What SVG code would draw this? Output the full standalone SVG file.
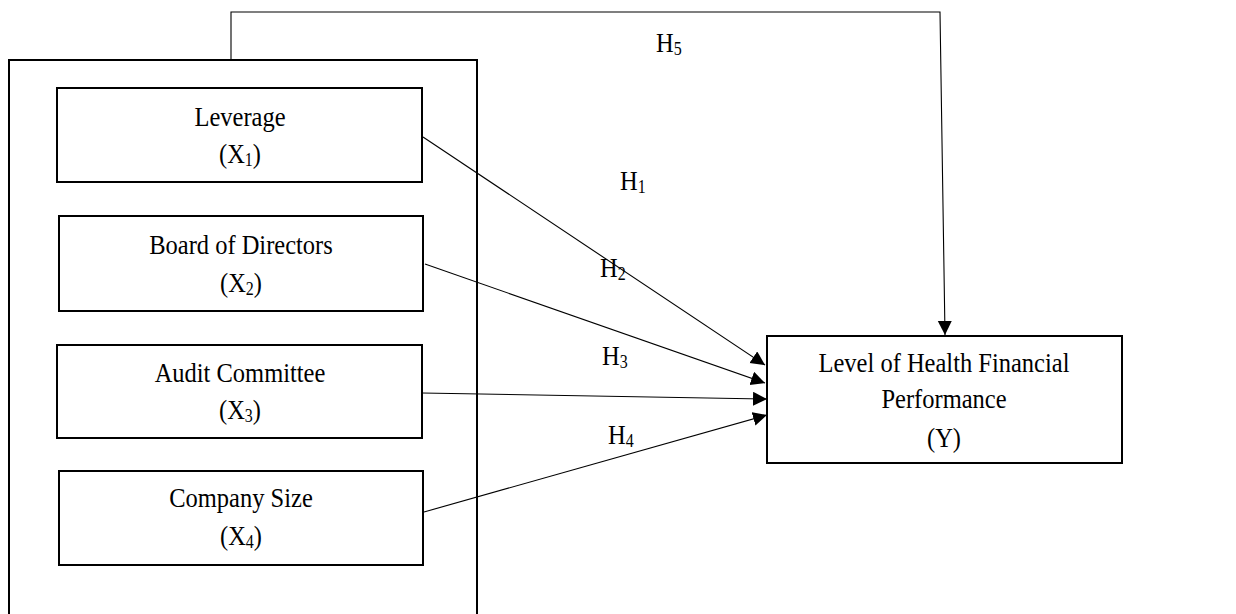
<svg xmlns="http://www.w3.org/2000/svg" width="1236" height="614" viewBox="0 0 1236 614">
<style>
.box{fill:#fff;stroke:#000;stroke-width:2}
.t{font-family:"Liberation Serif","Times New Roman",serif;font-size:24.5px;fill:#000;text-anchor:middle}
.h{font-family:"Liberation Serif","Times New Roman",serif;font-size:24.5px;fill:#000}
.c{fill:none;stroke:#000;stroke-width:1.1}
</style>
<defs>
<marker id="arr" markerUnits="userSpaceOnUse" markerWidth="16" markerHeight="16" refX="14" refY="7" orient="auto">
<path d="M0,0 L14,7 L0,14 z" fill="#000"/>
</marker>
</defs>
<rect width="1236" height="614" fill="#fff"/>
<g id="outer"><rect class="box" x="9" y="60" width="468" height="570"/></g>
<g id="leverage">
<rect class="box" x="57" y="88" width="365" height="94"/>
<text class="t" transform="translate(240,126) scale(1,1.15)">Leverage</text>
<text class="t" transform="translate(240,163) scale(1,1.15)">(X<tspan font-size="16" dy="3">1</tspan><tspan dy="-3">)</tspan></text>
</g>
<g id="board">
<rect class="box" x="59" y="216" width="364" height="95"/>
<text class="t" transform="translate(241,254) scale(1,1.15)">Board of Directors</text>
<text class="t" transform="translate(241,292) scale(1,1.15)">(X<tspan font-size="16" dy="3">2</tspan><tspan dy="-3">)</tspan></text>
</g>
<g id="audit">
<rect class="box" x="57" y="345" width="365" height="93"/>
<text class="t" transform="translate(240,382) scale(1,1.15)">Audit Committee</text>
<text class="t" transform="translate(240,419) scale(1,1.15)">(X<tspan font-size="16" dy="3">3</tspan><tspan dy="-3">)</tspan></text>
</g>
<g id="size">
<rect class="box" x="59" y="471" width="364" height="94"/>
<text class="t" transform="translate(241,507) scale(1,1.15)">Company Size</text>
<text class="t" transform="translate(241,545) scale(1,1.15)">(X<tspan font-size="16" dy="3">4</tspan><tspan dy="-3">)</tspan></text>
</g>
<g id="y">
<rect class="box" x="767" y="336" width="355" height="127"/>
<text class="t" transform="translate(944,372) scale(1,1.15)">Level of Health Financial</text>
<text class="t" transform="translate(944,408) scale(1,1.15)">Performance</text>
<text class="t" transform="translate(944,447) scale(1,1.15)">(Y)</text>
</g>
<g id="connectors">
<polyline class="c" points="231,60 231,12 940,12 945,335" marker-end="url(#arr)"/>
<line class="c" x1="423" y1="137" x2="765" y2="365" marker-end="url(#arr)"/>
<line class="c" x1="425" y1="264" x2="765" y2="383" marker-end="url(#arr)"/>
<line class="c" x1="422" y1="393" x2="767" y2="399" marker-end="url(#arr)"/>
<line class="c" x1="424" y1="512" x2="767" y2="415" marker-end="url(#arr)"/>
</g>
<g id="labels">
<text class="h" transform="translate(656,52) scale(1,1.15)">H<tspan font-size="16" dy="3">5</tspan></text>
<text class="h" transform="translate(620,190) scale(1,1.15)">H<tspan font-size="16" dy="3">1</tspan></text>
<text class="h" transform="translate(600,277) scale(1,1.15)">H<tspan font-size="16" dy="3">2</tspan></text>
<text class="h" transform="translate(602,365) scale(1,1.15)">H<tspan font-size="16" dy="3">3</tspan></text>
<text class="h" transform="translate(608,444) scale(1,1.15)">H<tspan font-size="16" dy="3">4</tspan></text>
</g>
</svg>
